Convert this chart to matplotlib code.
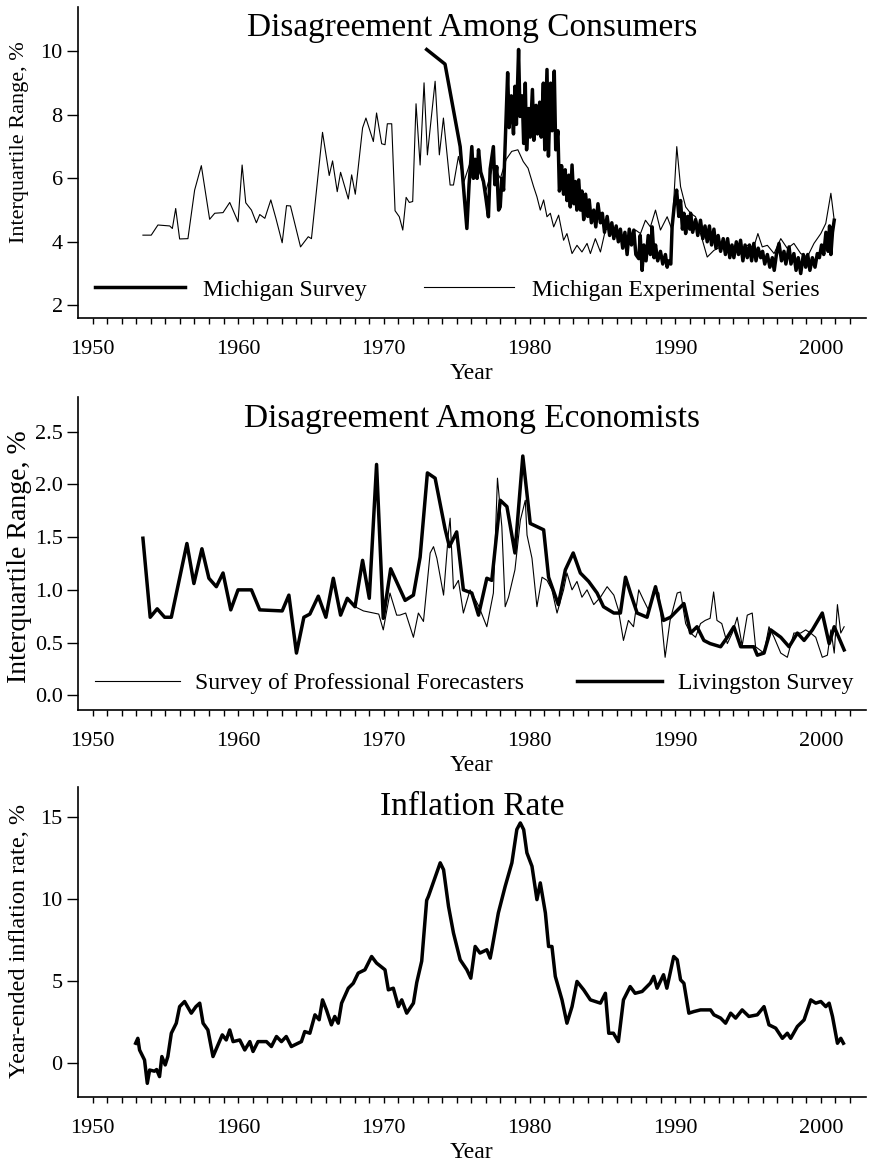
import numpy as np
import matplotlib
matplotlib.use("Agg")
import matplotlib.pyplot as plt
from matplotlib.lines import Line2D

plt.rcParams['font.family'] = ['Liberation Serif', 'DejaVu Serif']

# Michigan Survey (thick) and experimental series (thin), IQR in %
mich_survey = [(1972.94, 10.06), (1974.2, 9.6), (1975.24, 7.0), (1975.7, 4.42), (1975.85, 5.8),
               (1976.04, 7.0), (1976.15, 6.0), (1976.27, 6.6), (1976.4, 6.0), (1976.5, 6.9),
               (1976.65, 6.2), (1976.84, 5.9), (1977.0, 5.4), (1977.18, 4.79), (1977.3, 6.3),
               (1977.52, 7.0), (1977.62, 5.8), (1977.75, 6.37), (1977.88, 5.0), (1977.99, 5.1),
               (1978.1, 6.0), (1978.22, 5.63), (1978.4, 8.0), (1978.5, 9.33), (1978.6, 7.6),
               (1978.75, 8.6), (1978.9, 7.4), (1979.0, 8.9), (1979.1, 7.7), (1979.25, 10.06),
               (1979.35, 7.95), (1979.5, 8.6), (1979.6, 7.1), (1979.71, 9.0), (1979.8, 6.9),
               (1979.95, 8.2), (1980.05, 7.3), (1980.2, 8.8), (1980.3, 7.2), (1980.45, 8.3),
               (1980.55, 7.4), (1980.7, 8.4), (1980.8, 7.3), (1980.95, 9.0), (1981.05, 6.9),
               (1981.2, 9.43), (1981.3, 6.7), (1981.45, 9.0), (1981.55, 7.5), (1981.7, 9.38),
               (1981.8, 6.9), (1981.95, 7.5), (1982.05, 5.6), (1982.11, 5.74), (1982.2, 6.4),
               (1982.34, 5.5), (1982.45, 6.27), (1982.57, 5.3), (1982.7, 6.1), (1982.8, 5.1),
               (1982.92, 6.42), (1983.05, 5.2), (1983.15, 5.9), (1983.25, 5.0), (1983.38, 5.95),
               (1983.5, 5.0), (1983.6, 5.6), (1983.72, 4.7), (1983.85, 5.5), (1984.0, 4.8),
               (1984.1, 5.32), (1984.25, 4.6), (1984.41, 5.0), (1984.55, 4.47), (1984.7, 5.2),
               (1984.87, 4.6), (1985.0, 4.9), (1985.15, 4.3), (1985.33, 4.8), (1985.5, 4.2),
               (1985.65, 4.6), (1985.79, 4.1), (1985.95, 4.5), (1986.1, 4.0), (1986.24, 4.4),
               (1986.4, 3.8), (1986.55, 4.3), (1986.7, 3.6), (1986.85, 4.4), (1987.0, 3.9),
               (1987.16, 4.37), (1987.3, 3.6), (1987.5, 3.47), (1987.6, 4.2), (1987.73, 3.1),
               (1987.85, 3.9), (1988.0, 3.4), (1988.15, 4.2), (1988.3, 3.6), (1988.42, 4.47),
               (1988.55, 3.5), (1988.65, 3.9), (1988.8, 3.4), (1988.99, 3.7), (1989.15, 3.3),
               (1989.33, 3.6), (1989.45, 3.2), (1989.56, 3.4), (1989.7, 3.3), (1989.79, 4.47),
               (1989.95, 5.2), (1990.1, 5.63), (1990.25, 4.8), (1990.37, 5.3), (1990.5, 4.4),
               (1990.6, 4.9), (1990.72, 4.26), (1990.85, 4.8), (1991.0, 4.4), (1991.06, 4.9),
               (1991.2, 4.3), (1991.4, 4.7), (1991.55, 4.2), (1991.74, 4.68), (1991.9, 4.1),
               (1992.05, 4.5), (1992.2, 4.0), (1992.35, 4.5), (1992.5, 3.9), (1992.66, 4.4),
               (1992.8, 3.8), (1992.95, 4.2), (1993.12, 3.7), (1993.3, 4.1), (1993.45, 3.6),
               (1993.6, 4.1), (1993.75, 3.5), (1993.9, 3.9), (1994.03, 3.5), (1994.2, 4.0),
               (1994.35, 3.6), (1994.49, 4.05), (1994.65, 3.4), (1994.8, 3.9), (1994.95, 3.5),
               (1995.1, 3.9), (1995.25, 3.4), (1995.4, 3.95), (1995.55, 3.4), (1995.7, 3.8),
               (1995.87, 3.5), (1996.0, 3.7), (1996.15, 3.3), (1996.33, 3.6), (1996.5, 3.2),
               (1996.67, 3.5), (1996.8, 3.1), (1996.95, 3.6), (1997.13, 3.95), (1997.3, 3.4),
               (1997.47, 3.7), (1997.6, 3.3), (1997.82, 3.84), (1997.95, 3.3), (1998.15, 3.63),
               (1998.3, 3.1), (1998.45, 3.5), (1998.62, 3.0), (1998.8, 3.6), (1998.96, 3.2),
               (1999.1, 3.6), (1999.25, 3.1), (1999.42, 3.5), (1999.6, 3.2), (1999.76, 3.63),
               (1999.9, 3.5), (2000.05, 3.9), (2000.2, 3.6), (2000.35, 4.3), (2000.5, 3.7),
               (2000.6, 4.5), (2000.69, 3.6), (2000.8, 4.3), (2000.92, 4.68)]

mich_experimental = [(1953.46, 4.21), (1954.03, 4.21), (1954.49, 4.53), (1955.3, 4.5), (1955.48, 4.42),
                     (1955.71, 5.05), (1955.98, 4.09), (1956.55, 4.1), (1957.01, 5.63), (1957.47, 6.4),
                     (1958.04, 4.71), (1958.39, 4.9), (1958.96, 4.92), (1959.42, 5.24), (1959.99, 4.63),
                     (1960.27, 6.42), (1960.52, 5.23), (1960.91, 5.0), (1961.25, 4.6), (1961.48, 4.86),
                     (1961.83, 4.74), (1962.24, 5.32), (1962.59, 4.74), (1963.02, 3.97), (1963.32, 5.14),
                     (1963.59, 5.13), (1964.28, 3.84), (1964.81, 4.16), (1965.03, 4.1), (1965.79, 7.45),
                     (1966.25, 6.09), (1966.48, 6.55), (1966.8, 5.58), (1967.03, 6.19), (1967.56, 5.35),
                     (1967.79, 6.11), (1968.04, 5.5), (1968.54, 7.59), (1968.77, 7.9), (1969.28, 7.16),
                     (1969.5, 8.06), (1969.85, 7.09), (1970.08, 7.06), (1970.24, 7.72), (1970.54, 7.72),
                     (1970.77, 4.98), (1971.06, 4.79), (1971.3, 4.37), (1971.53, 5.4), (1971.75, 5.24),
                     (1971.98, 5.27), (1972.21, 8.35), (1972.49, 6.42), (1972.76, 9.01), (1972.99, 6.74),
                     (1973.52, 9.06), (1973.81, 6.74), (1974.09, 7.9), (1974.55, 5.79), (1974.78, 5.79),
                     (1975.12, 6.69), (1975.5, 5.9), (1976.0, 6.6), (1976.5, 6.3), (1977.0, 5.6),
                     (1977.5, 6.4), (1978.0, 6.0), (1978.4, 6.6), (1978.78, 6.85), (1979.2, 6.9),
                     (1979.57, 6.53), (1979.9, 6.32), (1980.28, 5.74), (1980.51, 5.42), (1980.74, 5.0),
                     (1980.97, 5.32), (1981.2, 4.79), (1981.43, 4.9), (1981.66, 4.47), (1982.0, 4.84),
                     (1982.34, 4.05), (1982.57, 4.26), (1982.92, 3.63), (1983.26, 3.89), (1983.6, 3.68),
                     (1983.95, 3.95), (1984.18, 3.63), (1984.52, 4.1), (1984.87, 3.68), (1985.21, 4.37),
                     (1985.56, 4.47), (1986.0, 4.26), (1986.45, 3.95), (1986.91, 4.0), (1987.28, 4.37),
                     (1987.62, 4.26), (1987.96, 4.68), (1988.3, 4.47), (1988.65, 5.0), (1988.99, 4.37),
                     (1989.45, 4.79), (1989.79, 4.37), (1990.11, 7.0), (1990.37, 5.74), (1990.72, 5.1),
                     (1991.06, 4.9), (1991.4, 4.79), (1991.74, 4.26), (1992.2, 3.52), (1992.66, 3.73),
                     (1993.12, 3.84), (1993.69, 3.63), (1994.26, 3.73), (1994.95, 3.89), (1995.4, 3.84),
                     (1995.68, 4.26), (1995.98, 3.84), (1996.33, 3.89), (1996.79, 3.63), (1997.25, 4.1),
                     (1997.7, 3.79), (1998.15, 3.95), (1998.62, 3.63), (1999.07, 3.52), (1999.53, 3.95),
                     (2000.0, 4.26), (2000.34, 4.58), (2000.69, 5.53), (2000.92, 4.68)]

# Economists
spf = [(1968.02, 0.84), (1968.6, 0.80), (1969.3, 0.78), (1969.65, 0.77), (1969.96, 0.62),
       (1970.42, 0.97), (1970.88, 0.76), (1971.1, 0.76), (1971.5, 0.78), (1972.03, 0.55),
       (1972.37, 0.78), (1972.72, 0.70), (1973.18, 1.35), (1973.41, 1.41), (1973.64, 1.30),
       (1974.1, 0.95), (1974.44, 1.55), (1974.55, 1.68), (1974.78, 1.01), (1975.12, 1.09),
       (1975.46, 0.78), (1975.92, 1.0), (1976.5, 0.85), (1977.07, 0.65), (1977.52, 0.97),
       (1977.8, 2.06), (1978.1, 1.6), (1978.33, 0.84), (1978.56, 0.93), (1979.0, 1.19),
       (1979.37, 1.66), (1979.71, 1.85), (1979.83, 1.52), (1980.17, 1.3), (1980.51, 0.84),
       (1980.86, 1.12), (1981.2, 1.09), (1981.54, 1.0), (1981.89, 0.78), (1982.34, 1.0),
       (1982.57, 1.16), (1982.92, 1.0), (1983.26, 1.08), (1983.6, 0.93), (1983.95, 1.0),
       (1984.41, 0.86), (1984.87, 0.93), (1985.33, 1.03), (1985.79, 0.95), (1986.1, 0.81),
       (1986.45, 0.52), (1986.79, 0.71), (1987.14, 0.65), (1987.5, 1.0), (1987.84, 0.9),
       (1988.2, 0.8), (1988.53, 1.0), (1988.88, 0.97), (1989.31, 0.36), (1989.65, 0.71),
       (1990.14, 0.97), (1990.37, 0.98), (1990.72, 0.68), (1991.06, 0.59), (1991.4, 0.55),
       (1991.74, 0.68), (1992.06, 0.71), (1992.4, 0.73), (1992.64, 0.98), (1992.87, 0.71),
       (1993.2, 0.68), (1993.58, 0.49), (1993.92, 0.59), (1994.26, 0.74), (1994.6, 0.47),
       (1994.95, 0.76), (1995.29, 0.78), (1995.52, 0.46), (1996.1, 0.40), (1996.44, 0.65),
       (1996.79, 0.55), (1997.25, 0.40), (1997.7, 0.36), (1998.15, 0.59), (1998.62, 0.59),
       (1998.96, 0.62), (1999.3, 0.59), (1999.65, 0.55), (2000.1, 0.36), (2000.45, 0.38),
       (2000.69, 0.62), (2000.92, 0.40), (2001.14, 0.86), (2001.37, 0.59), (2001.6, 0.65)]

livingston = [(1953.46, 1.49), (1953.96, 0.74), (1954.44, 0.82), (1954.95, 0.74), (1955.41, 0.74),
              (1956.48, 1.44), (1956.96, 1.06), (1957.51, 1.39), (1957.99, 1.11), (1958.5, 1.03),
              (1958.96, 1.16), (1959.49, 0.81), (1959.99, 1.0), (1960.91, 1.0), (1961.48, 0.81),
              (1963.02, 0.80), (1963.48, 0.95), (1964.0, 0.40), (1964.51, 0.74), (1964.92, 0.77),
              (1965.5, 0.94), (1966.02, 0.74), (1966.53, 1.11), (1967.03, 0.76), (1967.49, 0.92),
              (1968.02, 0.84), (1968.54, 1.28), (1969.0, 0.92), (1969.5, 2.19), (1969.96, 0.73),
              (1970.47, 1.20), (1971.46, 0.90), (1972.03, 0.95), (1972.49, 1.31), (1972.99, 2.11),
              (1973.52, 2.06), (1974.2, 1.58), (1974.5, 1.41), (1975.0, 1.55), (1975.46, 1.0),
              (1976.04, 0.97), (1976.5, 0.76), (1977.07, 1.11), (1977.41, 1.09), (1977.99, 1.85),
              (1978.45, 1.79), (1979.0, 1.35), (1979.54, 2.27), (1980.05, 1.63), (1980.97, 1.57),
              (1981.31, 1.12), (1981.98, 0.86), (1982.46, 1.19), (1983.0, 1.35), (1983.49, 1.16),
              (1984.06, 1.08), (1984.64, 0.97), (1985.08, 0.84), (1985.79, 0.78), (1986.24, 0.78),
              (1986.59, 1.12), (1986.93, 0.97), (1987.39, 0.78), (1988.07, 0.74), (1988.65, 1.03),
              (1989.2, 0.71), (1989.68, 0.74), (1990.6, 0.87), (1991.06, 0.59), (1991.5, 0.65),
              (1991.97, 0.52), (1992.4, 0.49), (1993.12, 0.46), (1993.58, 0.55), (1994.03, 0.65),
              (1994.5, 0.46), (1995.4, 0.46), (1995.64, 0.38), (1996.1, 0.40), (1996.56, 0.62),
              (1997.25, 0.55), (1997.82, 0.46), (1998.39, 0.59), (1998.85, 0.52), (1999.42, 0.62),
              (2000.1, 0.78), (2000.57, 0.49), (2000.92, 0.65), (2001.6, 0.43)]

# Year-ended inflation rate, %
inflation = [(1952.96, 1.2), (1953.11, 1.5), (1953.23, 0.79), (1953.57, 0.18), (1953.76, -1.24),
             (1953.92, -0.43), (1954.25, -0.5), (1954.4, -0.4), (1954.6, -0.83), (1954.76, 0.39),
             (1954.99, -0.12), (1955.17, 0.39), (1955.41, 1.81), (1955.75, 2.42), (1955.98, 3.43),
             (1956.32, 3.74), (1956.78, 3.03), (1957.1, 3.43), (1957.36, 3.64), (1957.59, 2.42),
             (1957.92, 2.01), (1958.27, 0.39), (1958.61, 1.1), (1958.91, 1.71), (1959.18, 1.4),
             (1959.42, 2.01), (1959.65, 1.3), (1960.11, 1.4), (1960.45, 0.79), (1960.8, 1.3),
             (1961.02, 0.7), (1961.36, 1.3), (1961.94, 1.3), (1962.28, 1.0), (1962.63, 1.61),
             (1962.97, 1.3), (1963.3, 1.61), (1963.65, 1.0), (1964.34, 1.3), (1964.57, 1.91),
             (1964.92, 1.81), (1965.27, 2.93), (1965.56, 2.63), (1965.79, 3.84), (1966.06, 3.23),
             (1966.4, 2.32), (1966.63, 2.83), (1966.87, 2.42), (1967.1, 3.64), (1967.56, 4.55),
             (1967.9, 4.85), (1968.24, 5.47), (1968.7, 5.67), (1969.16, 6.48), (1969.5, 6.08),
             (1970.08, 5.67), (1970.31, 4.45), (1970.65, 4.55), (1971.0, 3.43), (1971.23, 3.84),
             (1971.57, 3.03), (1972.03, 3.64), (1972.26, 4.9), (1972.6, 6.2), (1972.94, 9.9),
             (1973.06, 10.14), (1973.4, 11.0), (1973.87, 12.18), (1974.1, 11.76), (1974.44, 9.53),
             (1974.78, 7.91), (1975.24, 6.28), (1975.7, 5.67), (1975.97, 5.16), (1976.27, 7.09),
             (1976.6, 6.69), (1977.07, 6.89), (1977.3, 6.38), (1977.41, 6.89), (1977.86, 9.13),
             (1978.33, 10.75), (1978.79, 12.18), (1979.13, 14.21), (1979.37, 14.61), (1979.6, 14.2),
             (1979.82, 12.79), (1980.17, 11.97), (1980.51, 9.94), (1980.74, 10.96), (1981.09, 9.13),
             (1981.31, 7.09), (1981.54, 7.09), (1981.77, 5.27), (1982.23, 3.84), (1982.57, 2.42),
             (1982.92, 3.43), (1983.26, 4.96), (1983.72, 4.45), (1984.18, 3.84), (1984.87, 3.64),
             (1985.21, 4.24), (1985.44, 1.81), (1985.76, 1.81), (1986.1, 1.3), (1986.45, 3.84),
             (1986.91, 4.65), (1987.25, 4.24), (1987.73, 4.35), (1988.3, 4.86), (1988.53, 5.27),
             (1988.76, 4.55), (1989.2, 5.37), (1989.43, 4.55), (1989.9, 6.48), (1990.14, 6.28),
             (1990.37, 5.06), (1990.6, 4.85), (1990.94, 3.03), (1991.29, 3.13), (1991.74, 3.23),
             (1992.43, 3.23), (1992.66, 2.93), (1993.12, 2.73), (1993.46, 2.42), (1993.81, 3.03),
             (1994.15, 2.73), (1994.6, 3.23), (1995.06, 2.83), (1995.64, 2.93), (1996.1, 3.43),
             (1996.44, 2.32), (1996.9, 2.12), (1997.36, 1.5), (1997.7, 1.81), (1997.93, 1.5),
             (1998.39, 2.22), (1998.85, 2.62), (1999.31, 3.84), (1999.65, 3.64), (2000.0, 3.74),
             (2000.34, 3.43), (2000.57, 3.64), (2000.8, 2.83), (2001.14, 1.2), (2001.37, 1.5),
             (2001.55, 1.2)]

year_ticks = [1950, 1960, 1970, 1980, 1990, 2000]
THICK = 2.5
THIN = 0.8


def xy(pairs):
    a = np.array(pairs)
    return a[:, 0], a[:, 1]


def style(ax, yticks, ylim, fmt=None):
    for s in ['top', 'right']:
        ax.spines[s].set_visible(False)
    for s in ['left', 'bottom']:
        ax.spines[s].set_linewidth(1.2)
    ax.set_xlim(1949, 2003.1)
    ax.set_ylim(*ylim)
    ax.set_xticks(year_ticks)
    ax.set_xticks(np.arange(1950, 2003), minor=True)
    ax.set_yticks(yticks)
    if fmt:
        ax.set_yticklabels([fmt % v for v in yticks])
    ax.tick_params(axis='x', which='both', direction='out', length=4, width=1, labelsize=16, pad=12)
    ax.tick_params(axis='y', direction='out', length=8, width=1, labelsize=16, pad=3)
    ax.set_xlabel('Year', fontsize=17)
    ax.xaxis.set_label_coords(0.5, -0.145)


fig = plt.figure(figsize=(8.72, 11.66), dpi=100)
L, W = 0.0894, 0.9037
ax1 = fig.add_axes([L, 0.7273, W, 0.2667])
ax2 = fig.add_axes([L, 0.3911, W, 0.2684])
ax3 = fig.add_axes([L, 0.0592, W, 0.2659])

# consumers
x, y = xy(mich_experimental)
ax1.plot(x, y, color='black', lw=THIN)
x, y = xy(mich_survey)
ax1.plot(x, y, color='black', lw=THICK)
style(ax1, [2, 4, 6, 8, 10], (1.6, 11.4))
ax1.text(0.5, 0.907, 'Disagreement Among Consumers', transform=ax1.transAxes,
         ha='center', va='baseline', fontsize=24)
ax1.set_ylabel('Interquartile Range, %', fontsize=16)
ax1.yaxis.set_label_coords(-0.062, 0.566)
h = [Line2D([], [], color='black', lw=THICK), Line2D([], [], color='black', lw=THIN)]
ax1.legend(h, ['Michigan Survey', 'Michigan Experimental Series'], ncol=2, frameon=False,
           loc='center left', bbox_to_anchor=(0.0216, 0.09), borderaxespad=0, borderpad=0,
           fontsize=17, handlelength=3.8, handletextpad=0.76, columnspacing=2.45)

# economists
x, y = xy(spf)
ax2.plot(x, y, color='black', lw=THIN)
x, y = xy(livingston)
ax2.plot(x, y, color='black', lw=THICK)
style(ax2, [0.0, 0.5, 1.0, 1.5, 2.0, 2.5], (-0.14, 2.83), fmt='%.1f')
ax2.text(0.5, 0.904, 'Disagreement Among Economists', transform=ax2.transAxes,
         ha='center', va='baseline', fontsize=24)
ax2.set_ylabel('Interquartile Range, %', fontsize=20)
ax2.yaxis.set_label_coords(-0.058, 0.49)
h = [Line2D([], [], color='black', lw=THIN), Line2D([], [], color='black', lw=THICK)]
ax2.legend(h, ['Survey of Professional Forecasters', 'Livingston Survey'], ncol=2, frameon=False,
           loc='center left', bbox_to_anchor=(0.0216, 0.086), borderaxespad=0, borderpad=0,
           fontsize=17, handlelength=3.6, handletextpad=0.65, columnspacing=2.25)

# inflation
x, y = xy(inflation)
ax3.plot(x, y, color='black', lw=THICK)
style(ax3, [0, 5, 10, 15], (-2.07, 16.8))
ax3.text(0.5, 0.91, 'Inflation Rate', transform=ax3.transAxes,
         ha='center', va='baseline', fontsize=24)
ax3.set_ylabel('Year-ended inflation rate, %', fontsize=17.5)
ax3.yaxis.set_label_coords(-0.061, 0.503)

fig.savefig('out.png', dpi=100)
